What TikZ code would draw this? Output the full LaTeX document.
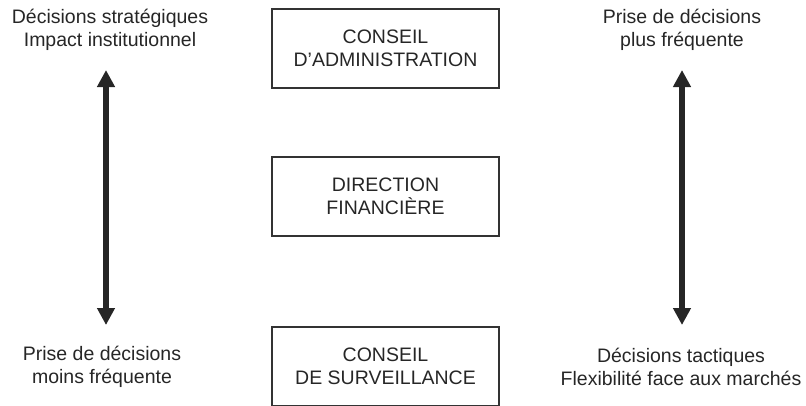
\documentclass[tikz,border=0pt]{standalone}
\usepackage{fontspec}
\setmainfont{Liberation Sans}
\usepackage{tikz}
\usetikzlibrary{arrows.meta}

\begin{document}
\begin{tikzpicture}[
        x=1pt, y=-1pt,
        organ box/.style={draw=black!80, line width=1.4pt, minimum width=227pt, minimum height=79pt,
            align=center, inner sep=0pt, text=black!85, font=\fontsize{19.5}{23}\selectfont},
        side label/.style={align=center, inner sep=0pt, text=black!85, font=\fontsize{19.5}{23}\selectfont},
        scale arrow/.style={line width=5.5pt, black!85, {Triangle[width=17pt,length=17pt]}-{Triangle[width=17pt,length=17pt]}}
    ]
    \clip (0,0) rectangle (806,405);
    \useasboundingbox (0,0) rectangle (806,405);

    % organes
    \node[organ box] (ca) at (385.5,48.5) {CONSEIL\\D'ADMINISTRATION};
    \node[organ box] (df) at (385.5,196.5) {DIRECTION\\FINANCIÈRE};
    \node[organ box] (cs) at (385.5,366.5) {CONSEIL\\DE SURVEILLANCE};

    % echelle de gauche
    \node[side label] (strat) at (110,30) {Décisions stratégiques\\Impact institutionnel};
    \node[side label] (moins) at (102,367) {Prise de décisions\\moins fréquente};
    \coordinate (l1) at (106,70);
    \coordinate (l2) at (106,325);
    \draw[scale arrow] (l1) -- (l2);

    % echelle de droite
    \node[side label] (plus) at (682,30) {Prise de décisions\\plus fréquente};
    \node[side label] (tact) at (681,367) {Décisions tactiques\\Flexibilité face aux marchés};
    \coordinate (r1) at (682,70);
    \coordinate (r2) at (682,325);
    \draw[scale arrow] (r1) -- (r2);
\end{tikzpicture}
\end{document}
